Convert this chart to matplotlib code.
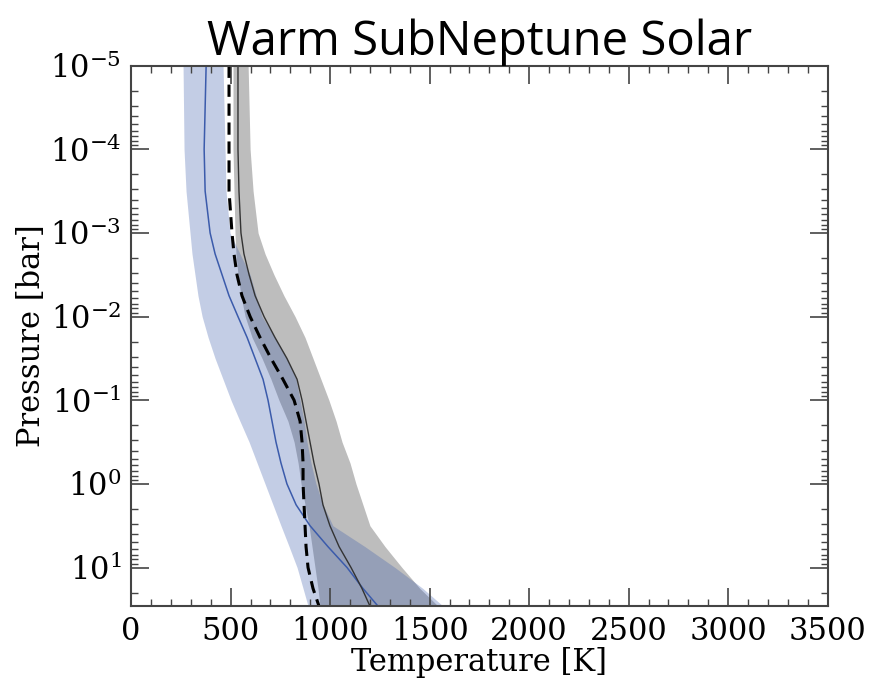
import numpy as np
import matplotlib.pyplot as plt
from matplotlib.ticker import FixedLocator, LogLocator, MultipleLocator, FuncFormatter

plt.rcParams['font.family'] = 'DejaVu Serif'
plt.rcParams['mathtext.fontset'] = 'dejavuserif'

# Pressure levels [bar] (log10 spacing)
log_p = [-5, -4, -3.5, -3, -2.75, -2.5, -2.25, -2, -1.75, -1.5, -1.25,
         -1, -0.75, -0.5, -0.25, 0, 0.25, 0.5, 0.75, 1, 1.25, 1.46]
pressure = [10.0 ** v for v in log_p]
y_ticks = [1e-5, 1e-4, 1e-3, 1e-2, 1e-1, 1e0, 1e1]

# Blue profile (median + band)
blue_mid = [377, 367, 372, 397, 422, 457, 492, 537, 583, 623, 663,
            688, 708, 728, 753, 783, 829, 899, 989, 1085, 1165, 1240]
blue_lo = [261, 266, 276, 296, 306, 321, 336, 357, 387, 422, 462,
           502, 547, 593, 633, 673, 713, 753, 794, 834, 864, 889]
blue_hi = [462, 472, 477, 497, 547, 598, 628, 658, 723, 783, 829,
           849, 869, 884, 904, 929, 964, 1014, 1175, 1326, 1466, 1567]

# Black profile (median + gray band)
black_mid = [537, 537, 542, 552, 567, 593, 623, 668, 723, 783, 834,
             859, 879, 899, 919, 944, 964, 999, 1045, 1105, 1160, 1200]
gray_lo = [512, 512, 517, 522, 527, 537, 552, 573, 608, 658, 703,
           743, 788, 819, 839, 854, 874, 894, 909, 924, 939, 949]
gray_hi = [588, 598, 613, 638, 673, 718, 768, 824, 874, 914, 954,
           994, 1030, 1060, 1100, 1130, 1165, 1200, 1276, 1361, 1451, 1542]

# Dashed reference profile
dashed = [492, 492, 492, 507, 517, 532, 557, 598, 648, 703, 763,
          819, 849, 859, 864, 864, 869, 874, 879, 889, 914, 944]

fig = plt.figure(figsize=(8.74, 6.84), dpi=100)
ax = fig.add_axes([0.150, 0.114, 0.797, 0.790])

blue = '#3b5bab'
ax.fill_betweenx(pressure, gray_lo, gray_hi, color='k', alpha=0.26, lw=0)
ax.fill_betweenx(pressure, blue_lo, blue_hi, color=blue, alpha=0.3, lw=0)
ax.plot(blue_mid, pressure, color=blue, lw=1.1)
ax.plot(black_mid, pressure, color='#333333', lw=1.0)
ax.plot(dashed, pressure, color='k', lw=2.2, ls=(0, (4, 2.2)))

ax.set_yscale('log')
ax.set_ylim(10 ** 1.46, 1e-5)
ax.set_xlim(0, 3500)

ax.xaxis.set_major_locator(MultipleLocator(500))
ax.xaxis.set_minor_locator(MultipleLocator(100))
ax.yaxis.set_major_locator(FixedLocator(y_ticks))
ax.yaxis.set_minor_locator(LogLocator(base=10, subs=np.arange(2, 10), numticks=20))
ax.yaxis.set_major_formatter(FuncFormatter(lambda v, p: r'$10^{%d}$' % round(np.log10(v))))

ax.tick_params(which='both', direction='in', top=True, right=True,
               labelsize=22, color='#444444')
ax.tick_params(which='major', length=13, width=1.2, pad=7)
ax.tick_params(which='minor', length=5, width=1.0)
for s in ax.spines.values():
    s.set_linewidth(1.5)
    s.set_color('#444444')

ax.set_xlabel('Temperature [K]', fontsize=22, labelpad=0)
ax.set_ylabel('Pressure [bar]', fontsize=22, labelpad=2)
ax.set_title('Warm SubNeptune Solar', fontsize=34, family='Open Sans', pad=5)

fig.savefig('out.png', dpi=100)
